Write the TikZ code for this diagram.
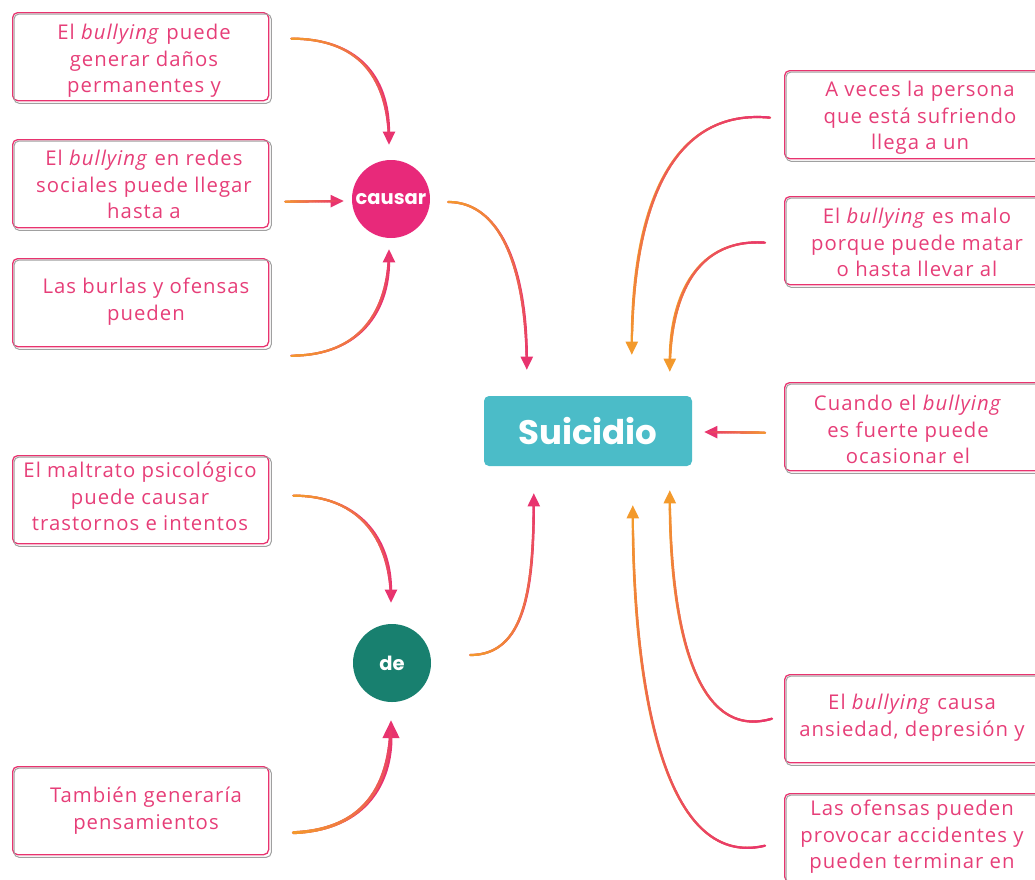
\documentclass[tikz,border=0pt]{standalone}
\usepackage{fontspec}
\setmainfont{Open Sans}[LetterSpace=5]
\newfontfamily\popf{Poppins}
\usetikzlibrary{arrows.meta,decorations.markings,calc}
\definecolor{pnk}{HTML}{E8336F}
\definecolor{org}{HTML}{F39A2C}
\definecolor{txtp}{HTML}{E63E78}
\definecolor{cpink}{HTML}{E8297A}
\definecolor{tealc}{HTML}{18806F}
\definecolor{sui}{HTML}{4BBCC8}
\definecolor{shadg}{HTML}{A0A0A0}
\tikzset{
  grad/.style n args={3}{draw=#2, line width=#3, line cap=round,
    -{Triangle[width=5.5*#3,length=6*#3]},
    postaction={decorate, decoration={markings,
      mark=between positions 0 and 0.93 step 1.5pt with {%
        \pgfmathtruncatemacro\pc{100*(1-\pgfkeysvalueof{/pgf/decoration/mark info/distance from start}/\pgfdecoratedpathlength)}%
        \draw[draw=#1!\pc!#2, line width=#3, line cap=round, -] (0pt,0pt) -- (2pt,0pt);}}}},
  op/.style={grad={org}{pnk}{2.2pt}},
  po/.style={grad={pnk}{org}{2.2pt}},
  boxst/.style={draw=pnk, line width=1.3pt, rounded corners=5pt, minimum width=256pt, minimum height=88pt, inner sep=0pt, anchor=north west},
  shad/.style={draw=shadg, line width=1pt, rounded corners=5pt},
  txt/.style={text=txtp, align=center, anchor=north, inner sep=0pt, font=\fontsize{20.3}{26.5}\selectfont},
  circ/.style={circle, minimum size=78pt, inner sep=0pt, text=white, font=\popf\bfseries\fontsize{19.5}{22}\selectfont}
}
\begin{document}
\begin{tikzpicture}[x=1pt,y=-1pt]
\useasboundingbox (0,0) rectangle (1035,879);
\clip (0,0) rectangle (1035,879);
% boxes
\node[boxst] (b1) at (12,12) {};
\node[boxst] (b2) at (12,139) {};
\node[boxst] (b3) at (12,258) {};
\node[boxst] (b4) at (12,455) {};
\node[boxst] (b5) at (12,766) {};
\node[boxst] (b6) at (784,70) {};
\node[boxst] (b7) at (784,196) {};
\node[boxst] (b8) at (784,382) {};
\node[boxst] (b9) at (784,674) {};
\node[boxst] (b10) at (784,793) {};
\foreach \b in {b1,b2,b3,b4,b5,b6,b7,b8,b9,b10}
  \draw[shad] ($(\b.north west)+(2,2)$) rectangle ($(\b.south east)+(2,2)$);
% texts
\node[txt] (t1) at (144,24) {El \textit{bullying} puede\\generar daños\\permanentes y};
\node[txt] (t2) at (144,150) {El \textit{bullying} en redes\\sociales puede llegar\\hasta a};
\node[txt] (t3) at (146,278) {Las burlas y ofensas\\pueden};
\node[txt] (t4) at (140,462) {El maltrato psicológico\\puede causar\\trastornos e intentos};
\node[txt] (t5) at (146,787) {También generaría\\pensamientos};
\node[txt] (t6) at (920,81) {A veces la persona\\que está sufriendo\\llega a un};
\node[txt] (t7) at (917,208) {El \textit{bullying} es malo\\porque puede matar\\o hasta llevar al};
\node[txt] (t8) at (908,395) {Cuando el \textit{bullying}\\es fuerte puede\\ocasionar el};
\node[txt] (t9) at (912,694) {El \textit{bullying} causa\\ansiedad, depresión y};
\node[txt] (t10) at (912,800) {Las ofensas pueden\\provocar accidentes y\\pueden terminar en};
% central
\node[fill=sui, rounded corners=5pt, minimum width=208pt, minimum height=70pt, inner sep=0pt, text=white, font=\popf\bfseries\fontsize{34}{40}\selectfont] (sui) at (588,431) {Suicidio};
\node[circ, fill=cpink] (causar) at (391,199) {causar};
\node[circ, fill=tealc] (de) at (392,663) {de};
% connector endpoints
\coordinate (a1s) at ($(b1.east)+(22,-18)$);
\coordinate (a1e) at ($(causar.north)+(-2,-15)$);
\coordinate (a2s) at ($(b2.east)+(16,18)$);
\coordinate (a2e) at ($(causar.west)+(-8,2)$);
\coordinate (a3s) at ($(b3.east)+(22,53)$);
\coordinate (a3e) at ($(causar.south)+(-2,11)$);
\coordinate (a4s) at ($(causar.east)+(18,3)$);
\coordinate (a4e) at ($(sui.north west)+(43,-26)$);
\coordinate (a5s) at ($(b4.east)+(24,-4)$);
\coordinate (a5e) at ($(de.north)+(-1,-21)$);
\coordinate (a6s) at ($(b5.east)+(24,22)$);
\coordinate (a6e) at ($(de.south)+(-1,18)$);
\coordinate (a7s) at ($(de.east)+(39,-8)$);
\coordinate (a7e) at ($(sui.south west)+(50,27)$);
\coordinate (a8s) at ($(b6.west)+(-14,3)$);
\coordinate (a8e) at ($(sui.north west)+(148,-41)$);
\coordinate (a9s) at ($(b7.west)+(-19,2)$);
\coordinate (a9e) at ($(sui.north west)+(186,-24)$);
\coordinate (a10s) at ($(b8.west)+(-19,6)$);
\coordinate (a10e) at ($(sui.east)+(12,1)$);
\coordinate (a11s) at ($(b9.west)+(-12,0)$);
\coordinate (a11e) at ($(sui.south west)+(186,24)$);
\coordinate (a12s) at ($(b10.west)+(-19,8)$);
\coordinate (a12e) at ($(sui.south west)+(149,39)$);
% connectors
\draw[op] (a1s) .. controls +(65,0) and +(0,-70) .. (a1e);
\draw[op] (a2s) -- (a2e);
\draw[op] (a3s) .. controls +(70,0) and +(0,60) .. (a3e);
\draw[op] (a4s) .. controls +(55,0) and +(0,-95) .. (a4e);
\draw[op] (a5s) .. controls +(65,0) and +(0,-65) .. (a5e);
\draw[grad={org}{pnk}{3pt}] (a6s) .. controls +(75,-3) and +(0,60) .. (a6e);
\draw[op] (a7s) .. controls +(55,0) and +(0,95) .. (a7e);
\draw[po] (a8s) .. controls +(-105,-10) and +(0,-135) .. (a8e);
\draw[po] (a9s) .. controls +(-75,-5) and +(0,-65) .. (a9e);
\draw[op] (a10s) -- (a10e);
\draw[po] (a11s) .. controls +(-85,25) and +(0,110) .. (a11e);
\draw[po] (a12s) .. controls +(-105,25) and +(0,170) .. (a12e);
\end{tikzpicture}
\end{document}
